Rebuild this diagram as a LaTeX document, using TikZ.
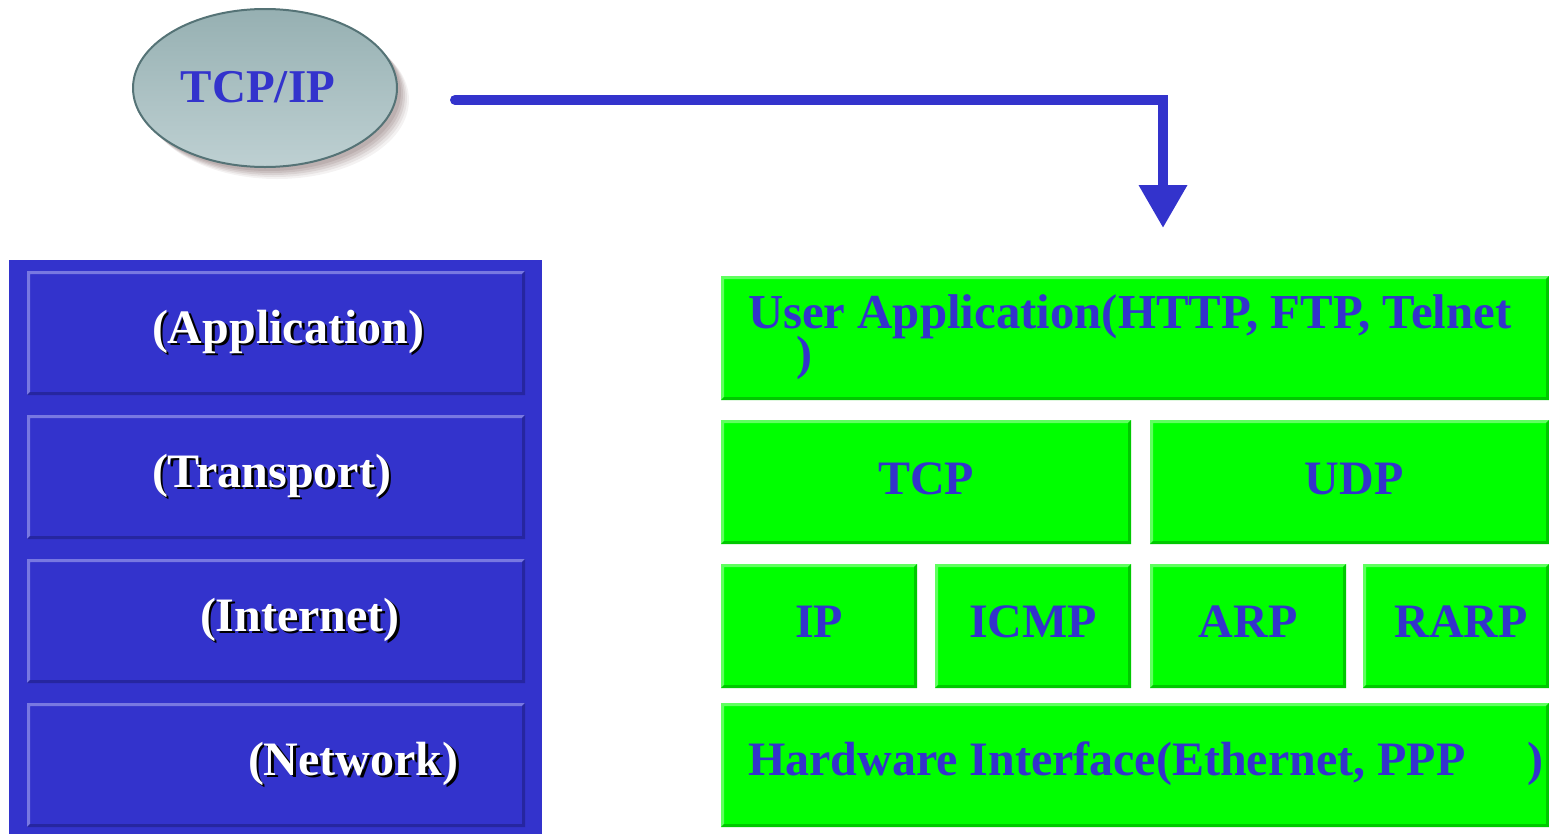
\documentclass[tikz,border=0pt]{standalone}
\usepackage{fontspec}
\setmainfont{Liberation Serif}
\usetikzlibrary{calc,arrows.meta,shapes.geometric}
\definecolor{myblue}{RGB}{51,51,204}
\definecolor{bluelight}{RGB}{120,120,225}
\definecolor{bluedark}{RGB}{38,38,160}
\definecolor{mygreen}{RGB}{0,255,0}
\definecolor{greenlight}{RGB}{95,255,95}
\definecolor{greendark}{RGB}{0,200,0}
\definecolor{elltop}{RGB}{150,176,178}
\definecolor{ellbot}{RGB}{190,208,210}
\definecolor{elledge}{RGB}{85,115,118}
\definecolor{ellshadow}{RGB}{150,130,130}
\newcommand{\shadowed}[1]{\makebox[0pt][l]{\kern2.5pt\raisebox{-2.5pt}{\color{black}#1}}{\color{white}#1}}
\tikzset{
  bevel/.style n args={3}{rectangle, inner sep=0pt, outer sep=0pt, anchor=north west, fill=#1,
    path picture={
      \path (path picture bounding box.south west) coordinate (sw)
            (path picture bounding box.north east) coordinate (ne);
      \fill[#2] (sw) -- (sw|-ne) -- (ne) -- ($(ne)+(-3pt,-3pt)$) -- ($(sw|-ne)+(3pt,-3pt)$) -- ($(sw)+(3pt,3pt)$) -- cycle;
      \fill[#3] (sw) -- (sw-|ne) -- (ne) -- ($(ne)+(-3pt,-3pt)$) -- ($(sw-|ne)+(-3pt,3pt)$) -- ($(sw)+(3pt,3pt)$) -- cycle;
    }},
  gbox/.style={bevel={mygreen}{greenlight}{greendark}},
  bbox/.style={bevel={myblue}{bluelight}{bluedark}},
  bigtext/.style={inner sep=0pt, outer sep=0pt, font=\fontsize{48}{50}\selectfont\bfseries},
  gtext/.style={bigtext, text=myblue, anchor=base},
  wtext/.style={bigtext, anchor=base west},
}
\begin{document}
\begin{tikzpicture}[x=1pt,y=-1pt]
\useasboundingbox (0,0) rectangle (1549,833);
% ellipse with shadow
\foreach \d/\o in {12/0.10,10/0.14,8/0.18,6/0.22,4/0.26}{
  \fill[ellshadow, opacity=\o] (265+\d,88+\d) ellipse [x radius=132, y radius=79];
}
\node[ellipse, minimum width=264pt, minimum height=158pt, top color=elltop, bottom color=ellbot,
      draw=elledge, line width=2pt, inner sep=0pt] (tcpip) at (265,88) {};
\node[bigtext, text=myblue, font=\fontsize{47}{50}\selectfont\bfseries, anchor=base] (tcpipl) at (258,102) {TCP/IP};
% arrow
\coordinate (astart) at (455,100);
\coordinate (abend) at (1163,100);
\coordinate (atip) at (1163,228);
\draw[myblue, line width=10pt, line join=miter, line cap=round, -{Triangle[width=46pt,length=43pt]}] (astart) -- (abend) -- (atip);
% blue panel
\node[fill=myblue, anchor=north west, inner sep=0pt, outer sep=0pt, minimum width=533pt, minimum height=575pt] (panel) at (9,260) {};
\node[bbox, minimum width=498pt, minimum height=124pt] (app) at (27,271) {};
\node[bbox, minimum width=498pt, minimum height=124pt] (trans) at (27,415) {};
\node[bbox, minimum width=498pt, minimum height=124pt] (inet) at (27,559) {};
\node[bbox, minimum width=498pt, minimum height=124pt] (net) at (27,703) {};
\node[wtext] (appl) at (152,343) {\shadowed{(Application)}};
\node[wtext] (transl) at (152,487) {\shadowed{(Transport)}};
\node[wtext] (inetl) at (200,631) {\shadowed{(Internet)}};
\node[wtext] (netl) at (248,775) {\shadowed{(Network)}};
% green stack
\node[gbox, minimum width=828pt, minimum height=124pt] (user) at (721,276) {};
\node[gbox, minimum width=410pt, minimum height=124pt] (tcp) at (721,420) {};
\node[gbox, minimum width=399pt, minimum height=124pt] (udp) at (1150,420) {};
\node[gbox, minimum width=196pt, minimum height=124pt] (ip) at (721,564) {};
\node[gbox, minimum width=196pt, minimum height=124pt] (icmp) at (935,564) {};
\node[gbox, minimum width=196pt, minimum height=124pt] (arp) at (1150,564) {};
\node[gbox, minimum width=186pt, minimum height=124pt] (rarp) at (1363,564) {};
\node[gbox, minimum width=828pt, minimum height=124pt] (hw) at (721,703) {};
\node[gtext, anchor=base west, font=\fontsize{48.8}{50}\selectfont\bfseries] (userl) at (748,328) {User Application(HTTP, FTP, Telnet};
\node[gtext, anchor=base west, text height=28pt] (userl2) at (796,369) {)};
\node[gtext] (tcpl) at (926,494) {TCP};
\node[gtext] (udpl) at (1354,494) {UDP};
\node[gtext] (ipl) at (819,637) {IP};
\node[gtext] (icmpl) at (1033,637) {ICMP};
\node[gtext] (arpl) at (1248,637) {ARP};
\node[gtext] (rarpl) at (1461,637) {RARP};
\node[gtext, anchor=base west] (hwl) at (748,775) {Hardware Interface(Ethernet, PPP};
\node[gtext, anchor=base west] (hwl2) at (1527,775) {)};
\end{tikzpicture}
\end{document}
